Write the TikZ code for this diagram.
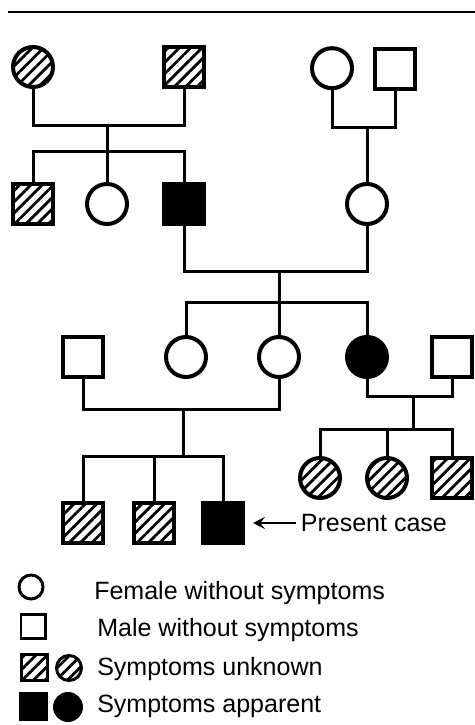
\documentclass[tikz,border=0pt]{standalone}
\usepackage{fontspec}
\setmainfont{Liberation Sans}
\usetikzlibrary{positioning,patterns.meta,arrows.meta}

\tikzset{
  person/.style={draw, line width=0.1cm, minimum size=1cm, inner sep=0pt},
  male/.style={person, rectangle},
  female/.style={person, circle},
  unknown/.style={pattern={Lines[angle=45,distance=0.2cm,line width=0.07cm]}},
  apparent/.style={fill=black},
  link/.style={line width=0.075cm},
  keyitem/.style={draw, line width=0.075cm, minimum size=0.6cm, inner sep=0pt},
  bigtext/.style={inner sep=0pt, font=\fontsize{17.8}{21}\selectfont},
  keytext/.style={bigtext, anchor=base west},
}

\begin{document}
\begin{tikzpicture}
	\useasboundingbox (0,0) rectangle (11.875,18.125);
	\draw[line width=0.05cm] (0.2,17.825) -- (11.875,17.825);
	
	% First generation
	\node[female, unknown] (a1) at (0.825,16.45) {};
	\node[male, unknown] (a2) at (4.6,16.45) {};
	\node[female] (a3) at (8.3,16.42) {};
	\node[male] (a4) at (9.875,16.4) {};
	
	% Second generation
	\node[male, unknown] (b1) at (0.825,13.025) {};
	\node[female] (b2) at (2.675,13.025) {};
	\node[male, apparent] (b3) at (4.6,13.025) {};
	\node[female] (b4) at (9.175,13.025) {};
	
	\coordinate (m1) at (2.675,14.975);
	\coordinate (s1) at (2.675,14.325);
	\coordinate (m2) at (9.175,14.925);
	\draw[link] (a1) |- (m1) -| (a2);
	\draw[link] (m1) -- (s1);
	\draw[link] (b1) |- (s1) -| (b3);
	\draw[link] (s1) -- (b2);
	\draw[link] (a3) |- (m2) -| (a4);
	\draw[link] (m2) -- (b4);
	
	% Third generation
	\node[male] (c1) at (2.075,9.2) {};
	\node[female] (c2) at (4.65,9.2) {};
	\node[female] (c3) at (6.975,9.2) {};
	\node[female, apparent] (c4) at (9.175,9.2) {};
	\node[male] (c5) at (11.3,9.2) {};
	
	\coordinate (m3) at (6.975,11.325);
	\coordinate (s3) at (6.975,10.55);
	\draw[link] (b3) |- (m3) -| (b4);
	\draw[link] (m3) -- (s3);
	\draw[link] (c2) |- (s3) -| (c4);
	\draw[link] (s3) -- (c3);
	
	% Fourth generation
	\node[male, unknown] (e1) at (2.075,5.05) {};
	\node[male, unknown] (e2) at (3.86,5.05) {};
	\node[male, apparent] (e3) at (5.575,5.05) {};
	\node[female, unknown] (d1) at (8.0,6.175) {};
	\node[female, unknown] (d2) at (9.675,6.175) {};
	\node[male, unknown] (d3) at (11.3,6.175) {};
	
	\coordinate (m4) at (4.575,7.875);
	\coordinate (s4) at (4.575,6.7);
	\draw[link] (c1) |- (m4) -| (c3);
	\draw[link] (m4) -- (s4);
	\draw[link] (e1) |- (s4) -| (e3);
	\draw[link] (e2) -- (e2 |- s4);
	
	\coordinate (m5) at (10.325,8.2);
	\coordinate (s5) at (10.325,7.375);
	\draw[link] (c4) |- (m5) -| (c5);
	\draw[link] (m5) -- (s5);
	\draw[link] (d1) |- (s5) -| (d3);
	\draw[link] (d2) -- (d2 |- s5);
	
	% Present case
	\node[bigtext, right=1.39cm of e3] (case) {Present case};
	\draw[line width=0.05cm, -{Stealth[length=0.3cm,width=0.3cm,inset=0.12cm]}, shorten <=0.125cm, shorten >=0.2cm] (case) -- (e3);
	
	% Legend
	\node[keyitem, circle] (kf) at (0.775,3.45) {};
	\node[keyitem, rectangle] (km) at (0.825,2.45) {};
	\node[keyitem, rectangle, unknown, minimum size=0.65cm] (ku1) at (0.85,1.425) {};
	\node[keyitem, circle, unknown, minimum size=0.625cm] (ku2) at (1.725,1.425) {};
	\node[keyitem, rectangle, apparent, minimum size=0.65cm] (ka1) at (0.825,0.45) {};
	\node[keyitem, circle, apparent, minimum size=0.675cm] (ka2) at (1.7,0.45) {};
	\node[keytext] (tf) at (2.35,3.125) {Female without symptoms};
	\node[keytext] (tm) at (2.425,2.2) {Male without symptoms};
	\node[keytext] (tu) at (2.425,1.25) {Symptoms unknown};
	\node[keytext] (ta) at (2.425,0.3) {Symptoms apparent};
	
\end{tikzpicture}
\end{document}
